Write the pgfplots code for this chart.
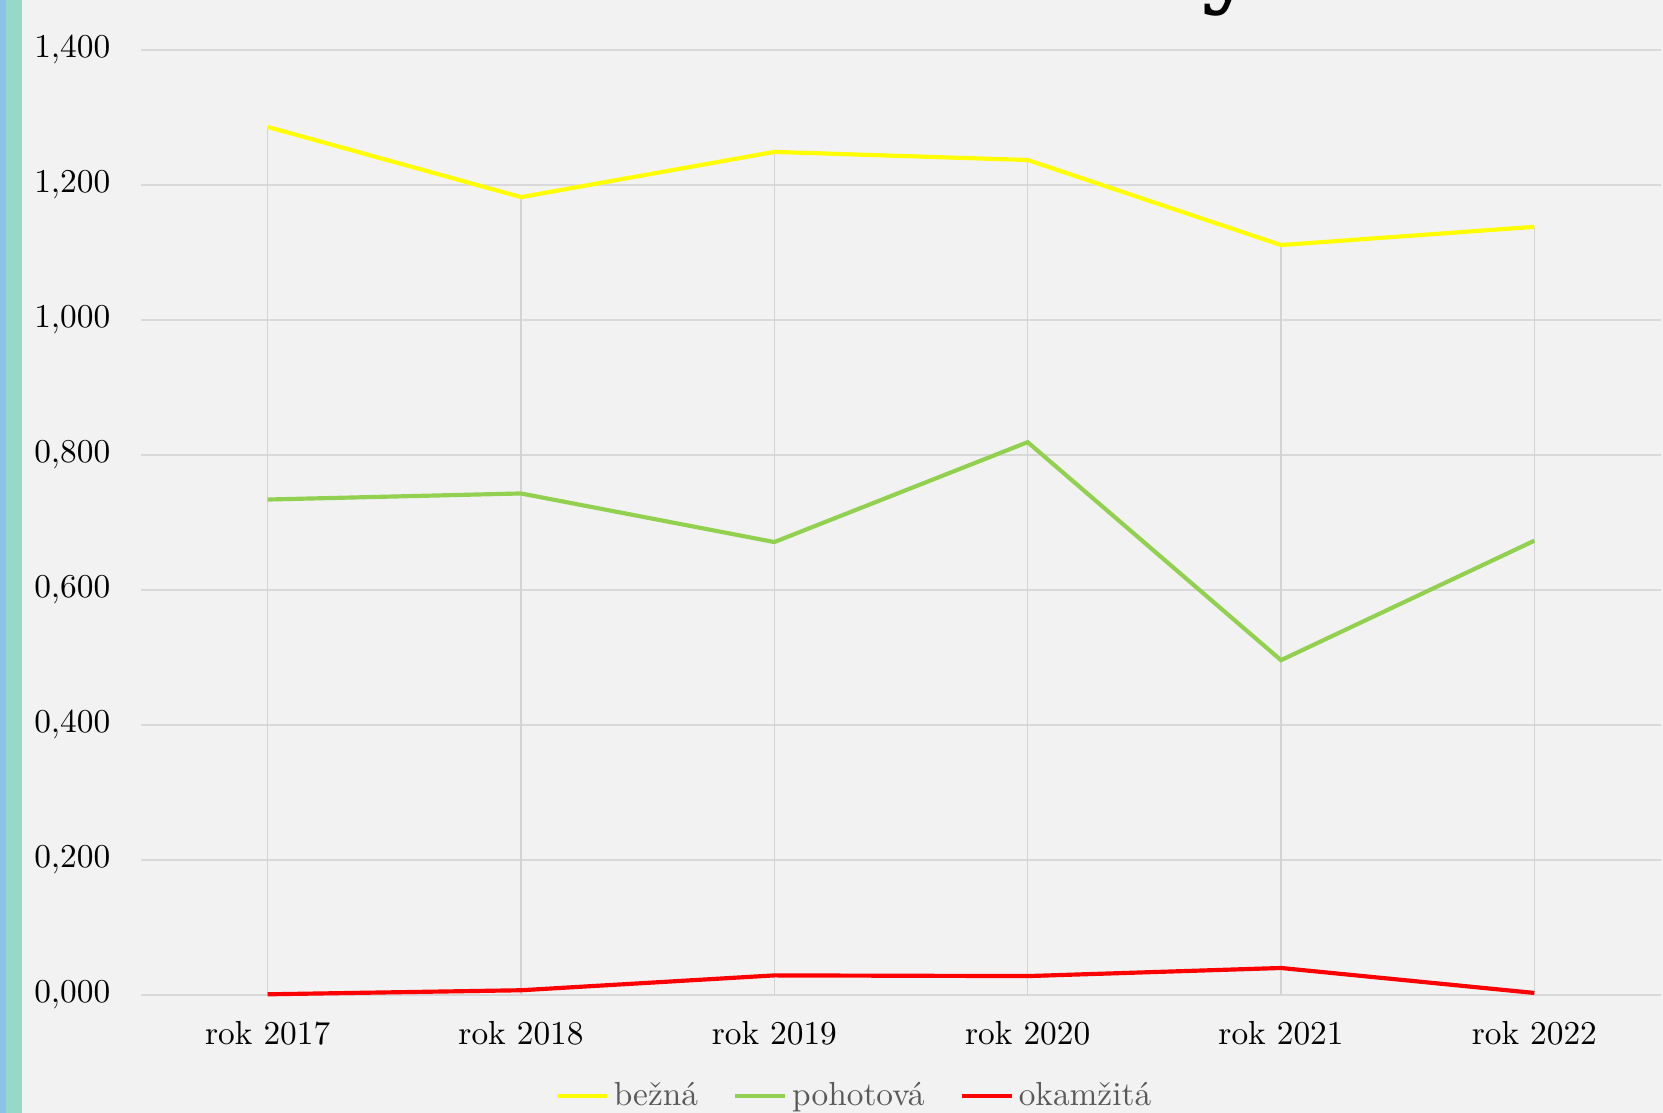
\documentclass[border=0pt]{standalone}
\usepackage{fontspec}
\newfontfamily\titlefont{DejaVu Serif}
\usepackage{pgfplots}
\pgfplotsset{compat=1.18}
\definecolor{bg}{HTML}{F2F2F2}
\definecolor{stripblue}{HTML}{8DC3E8}
\definecolor{stripteal}{HTML}{96D9C6}
\definecolor{gridgray}{HTML}{D9D9D9}
\definecolor{dropgray}{HTML}{D3D3D3}
\definecolor{legendgray}{HTML}{595959}
\definecolor{cyellow}{HTML}{FFFF00}
\definecolor{cgreen}{HTML}{92D050}
\definecolor{cred}{HTML}{FF0000}
\begin{document}
\begin{tikzpicture}
\fill[bg] (0,0) rectangle (498.9pt,333.9pt);
\useasboundingbox (0,0) rectangle (498.9pt,333.9pt);
\fill[stripblue] (0,0) rectangle (1.8pt,333.9pt);
\fill[stripteal] (1.8pt,0) rectangle (6.6pt,333.9pt);
\node[anchor=base west, inner sep=0pt, font=\titlefont\bfseries\fontsize{28}{34}\selectfont] at (360pt,335.3pt) {y};
\begin{axis}[
  at={(42.3pt,35.4pt)}, anchor=south west,
  scale only axis, width=456pt, height=283.5pt,
  xmin=-0.5, xmax=5.5, ymin=0, ymax=1.4,
  clip=false,
  axis line style={draw=none},
  xtick={0,1,2,3,4,5},
  xticklabels={rok 2017,rok 2018,rok 2019,rok 2020,rok 2021,rok 2022},
  ytick={0,0.2,0.4,0.6,0.8,1.0,1.2,1.4},
  major tick length=0pt,
  ymajorgrids,
  grid style={draw=gridgray, line width=0.6pt},
  yticklabel style={/pgf/number format/.cd, fixed, fixed zerofill, precision=3, use comma, /tikz/.cd, xshift=-5.7pt},
  xticklabel style={yshift=-4.5pt},
  tick label style={font=\fontsize{10}{12}\selectfont},
  legend style={draw=none, fill=none, at={(0.470,-0.107)}, anchor=center,
    legend columns=3, font=\fontsize{10}{12}\selectfont\color{legendgray},
    /tikz/every even column/.append style={column sep=9pt},
    nodes={inner sep=1.5pt}},
  legend image code/.code={\draw[#1] (0pt,0pt) -- (15pt,0pt);},
]
\addplot[ycomb, draw=dropgray, line width=0.35pt, mark=none, forget plot] coordinates {
  (0,1.286) (1,1.182) (2,1.249) (3,1.237) (4,1.111) (5,1.138)};
\addplot[cyellow, line width=1.25pt, mark=none] coordinates {
  (0,1.286) (1,1.182) (2,1.249) (3,1.237) (4,1.111) (5,1.138)};
\addplot[cgreen, line width=1.25pt, mark=none] coordinates {
  (0,0.734) (1,0.743) (2,0.671) (3,0.819) (4,0.496) (5,0.673)};
\addplot[cred, line width=1.25pt, mark=none] coordinates {
  (0,0.001) (1,0.007) (2,0.029) (3,0.028) (4,0.040) (5,0.003)};
\legend{bežná,pohotová,okamžitá}
\end{axis}
\end{tikzpicture}
\end{document}
